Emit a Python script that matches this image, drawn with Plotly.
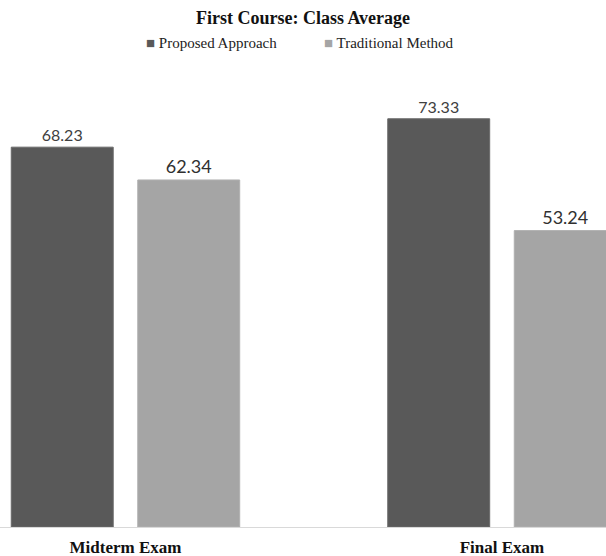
import plotly.graph_objects as go

categories = ["Midterm Exam", "Final Exam"]
proposed = [68.23, 73.33]
traditional = [62.34, 53.24]
series_names = ["Proposed Approach", "Traditional Method"]
colors = ["#595959", "#a5a5a5"]

fig = go.Figure()
fig.add_trace(go.Bar(
    x=[0, 1], y=proposed, name=series_names[0],
    marker=dict(color=colors[0], line=dict(color="#6a6a6a", width=1)),
    text=[f"{v:.2f}" for v in proposed], textposition="outside",
    textfont=dict(family="Lato, Open Sans, sans-serif", size=16, color="#404040"),
    cliponaxis=True,
))
fig.add_trace(go.Bar(
    x=[0, 1], y=traditional, name=series_names[1],
    marker=dict(color=colors[1], line=dict(color="#b0b0b0", width=1)),
    text=[f"{v:.2f}" for v in traditional], textposition="outside",
    textfont=dict(family="Lato, Open Sans, sans-serif", size=18, color="#303030"),
    cliponaxis=True,
))

serif = "Liberation Serif, Times New Roman, serif"
legend_x = [211.5 / 606, 389 / 606]
plot_top, plot_bottom = 90, 527
legend_y = (plot_bottom - 43) / (plot_bottom - plot_top)
for name, col, lx in zip(series_names, colors, legend_x):
    fig.add_annotation(
        text=f"<span style='color:{col}'>■</span> {name}",
        x=lx, xref="paper", xanchor="center",
        y=legend_y, yref="paper", yanchor="middle",
        showarrow=False, font=dict(family=serif, size=15, color="#222222"),
    )

fig.update_layout(
    width=606, height=556,
    margin=dict(l=0, r=0, t=plot_top, b=556 - plot_bottom),
    paper_bgcolor="white", plot_bgcolor="white",
    barmode="group", bargap=0.328, bargroupgap=0.194,
    showlegend=False,
    title=dict(text="<b>First Course: Class Average</b>", x=0.5, xanchor="center",
               y=1 - 18 / 556, yanchor="middle",
               font=dict(family=serif, size=18, color="#111111")),
    xaxis=dict(range=[-0.3333, 1.2763], tickvals=[0, 1],
               ticktext=[f"<b>{c}</b>" for c in categories],
               showline=True, linecolor="#d9d9d9", linewidth=1, showgrid=False, zeroline=False,
               ticks="", ticklabelstandoff=5,
               tickfont=dict(family=serif, size=17, color="#111111")),
    yaxis=dict(range=[0, 78.5], visible=False, showgrid=False, zeroline=False),
)

fig.write_html("out.html")
